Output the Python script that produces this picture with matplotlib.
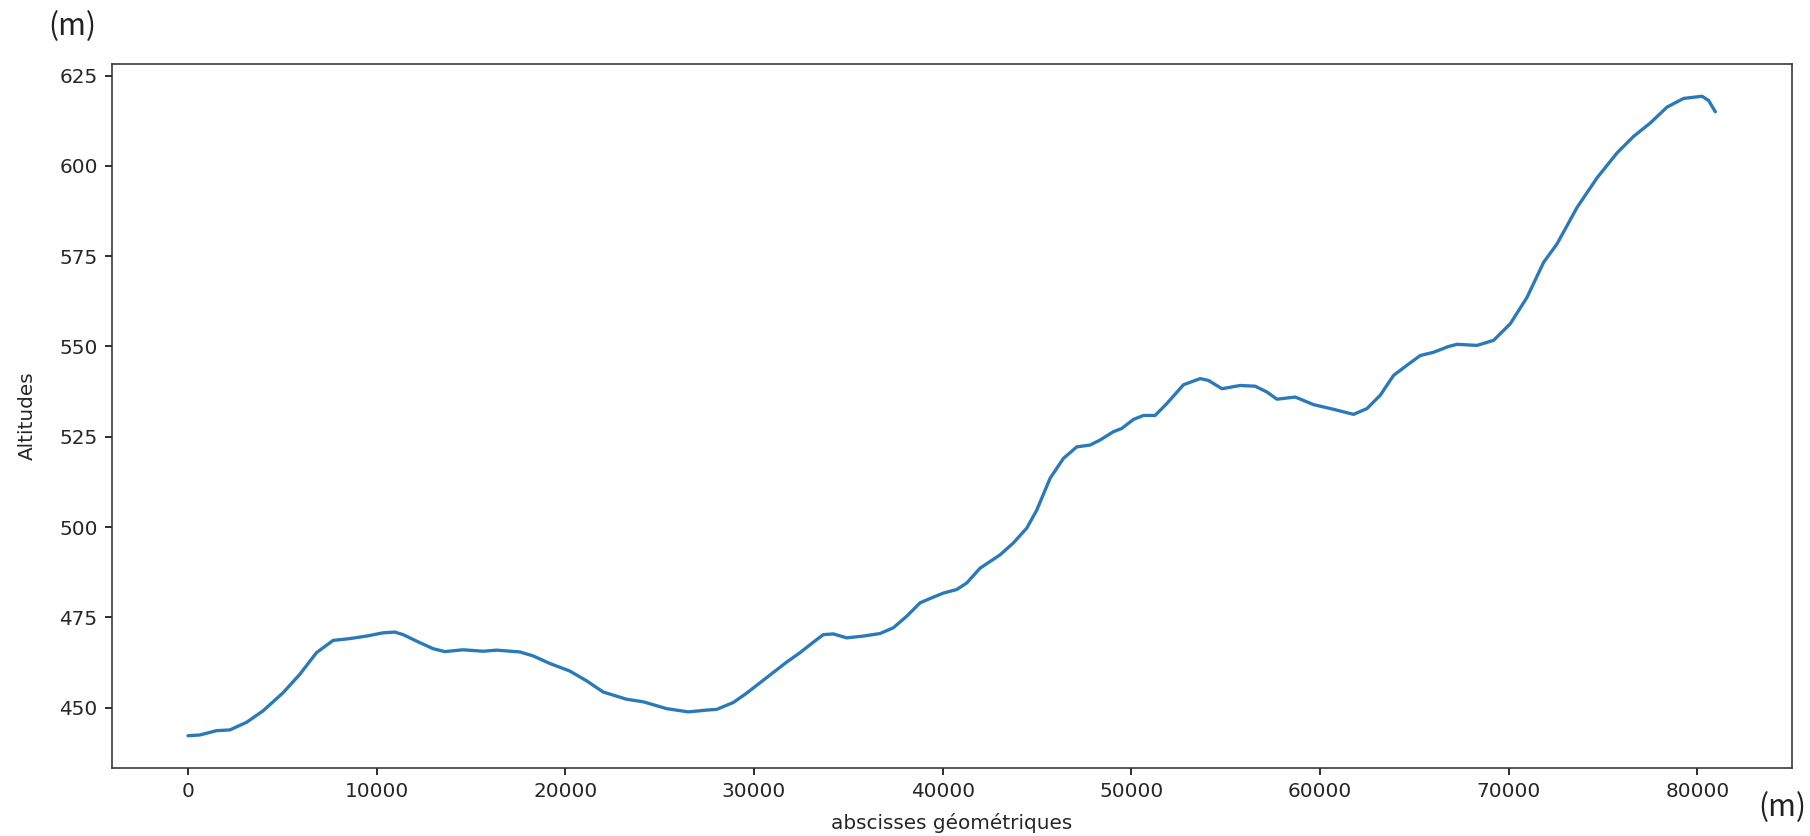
import matplotlib
matplotlib.use("Agg")
import matplotlib.pyplot as plt

abscisses = [0, 620, 1505, 2210, 3096, 3977, 5037, 5923, 6808, 7689,
             8574, 9460, 10340, 10960, 11400, 12111, 12991, 13612, 14582, 15643,
             16353, 17589, 18294, 19180, 20240, 21125, 22006, 23246, 24127, 25368,
             26513, 27489, 28019, 28899, 29610, 30670, 31731, 32436, 33142, 33672,
             34202, 34913, 35793, 36678, 37383, 38093, 38799, 39330, 40034, 40745,
             41275, 41980, 43041, 43746, 44456, 44987, 45692, 46397, 47108, 47813,
             48343, 49049, 49492, 50109, 50639, 51260, 51880, 52761, 53646, 54087,
             54798, 55767, 56562, 57183, 57713, 58683, 59654, 60715, 61775, 62486,
             63192, 63897, 64607, 65312, 66017, 66813, 67257, 68318, 69198, 70084,
             70969, 71850, 72560, 73621, 74681, 75741, 76622, 77507, 78392, 79273,
             80248, 80598, 80953]

altitudes = [442.2, 442.4, 443.6, 443.8, 445.9, 449.1, 454.1, 459.2, 465.2, 468.6,
             469.1, 469.8, 470.7, 470.9, 470.2, 468.4, 466.3, 465.5, 466.0, 465.6,
             465.9, 465.4, 464.3, 462.2, 460.1, 457.4, 454.3, 452.3, 451.6, 449.7,
             448.8, 449.3, 449.5, 451.4, 454.0, 458.3, 462.6, 465.2, 468.1, 470.2,
             470.4, 469.3, 469.8, 470.5, 472.1, 475.3, 479.0, 480.2, 481.7, 482.7,
             484.5, 488.6, 492.3, 495.6, 499.7, 504.7, 513.5, 519.0, 522.2, 522.7,
             524.1, 526.4, 527.3, 529.8, 530.9, 530.9, 534.2, 539.4, 541.1, 540.6,
             538.3, 539.2, 539.0, 537.4, 535.4, 536.0, 533.9, 532.6, 531.2, 532.8,
             536.5, 542.0, 544.8, 547.5, 548.4, 550.0, 550.6, 550.3, 551.7, 556.3,
             563.6, 573.3, 578.4, 588.5, 596.7, 603.6, 608.2, 611.9, 616.3, 618.7,
             619.3, 618.1, 615.0]

DPI = 144
TEXT = "#262626"
plt.rcParams["text.color"] = TEXT
plt.rcParams["axes.labelcolor"] = TEXT
plt.rcParams["xtick.labelcolor"] = TEXT
plt.rcParams["ytick.labelcolor"] = TEXT

fig = plt.figure(figsize=(1810 / DPI, 836 / DPI), dpi=DPI)
ax = fig.add_axes([0.0617, 0.0817, 0.9899 - 0.0617, 0.9231 - 0.0817])
ax.plot(abscisses, altitudes, color="#2a7ab9", linewidth=1.65,
        solid_joinstyle="round", solid_capstyle="round")
ax.set_xlabel("abscisses géométriques", labelpad=6)
ax.set_ylabel("Altitudes", labelpad=11)
for s in ax.spines.values():
    s.set_color("#333333")

fig.text(72 / 1810, 1 - 27 / 836, "(m)", ha="center", va="center",
         fontsize=15, family=["Noto Sans CJK KR", "DejaVu Sans"], color="#222222")
fig.text(1782 / 1810, 1 - 808 / 836, "(m)", ha="center", va="center",
         fontsize=15, family=["Noto Sans CJK KR", "DejaVu Sans"], color="#222222")

fig.savefig("out.png", dpi=DPI)
